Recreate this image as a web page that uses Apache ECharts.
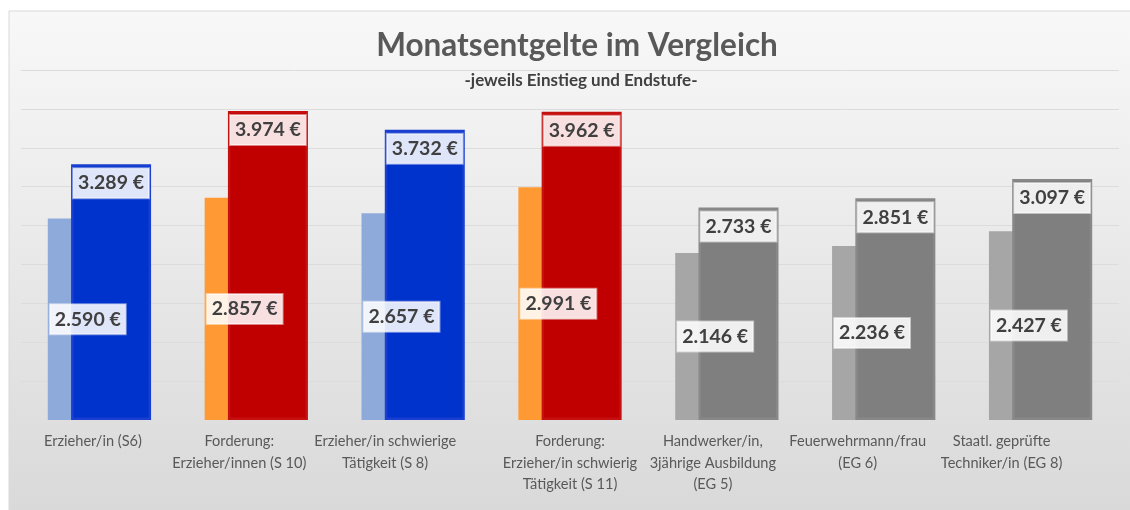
<!DOCTYPE html>
<html>
<head>
<meta charset="utf-8">
<script src="https://cdn.jsdelivr.net/npm/echarts@6/dist/echarts.min.js"></script>
<style>
  html, body { margin: 0; padding: 0; background: #ffffff; overflow: hidden; }
  #chart { width: 1130px; height: 510px; }
</style>
</head>
<body>
<div id="chart"></div>
<script>
// ---- data ----
const categories = [
  'Erzieher/in (S6)',
  'Forderung:\nErzieher/innen (S 10)',
  'Erzieher/in schwierige\nTätigkeit (S 8)',
  'Forderung:\nErzieher/in schwierig\nTätigkeit (S 11)',
  'Handwerker/in,\n3jährige Ausbildung\n(EG 5)',
  'Feuerwehrmann/frau\n(EG 6)',
  'Staatl. geprüfte\nTechniker/in (EG 8)'
];
const einstieg = [2590, 2857, 2657, 2991, 2146, 2236, 2427];
const endstufe = [3289, 3974, 3732, 3962, 2733, 2851, 3097];
const yTicks = { min: 0, max: 4500, interval: 500 };

// ---- styles (kept separate from data) ----
const lightColors = ['#8EAADB', '#FF9933', '#8EAADB', '#FF9933', '#A6A6A6', '#A6A6A6', '#A6A6A6'];
const darkColors  = ['#0033CC', '#C00000', '#0033CC', '#C00000', '#7F7F7F', '#7F7F7F', '#7F7F7F'];
const darkBorders = ['#1A3FD0', '#C41010', '#1A3FD0', '#C41010', '#888888', '#888888', '#888888'];
const labelShiftRightPad = [13, 34, 56, 0, 28, 52, 78];

const FONT = 'Lato, "Open Sans", sans-serif';

function euro(v) {
  return String(v).replace(/\B(?=(\d{3})+(?!\d))/g, '.') + ' €';
}

const valueLabel = {
  show: true,
  formatter: p => euro(p.value),
  fontFamily: FONT,
  fontWeight: 'bold',
  fontSize: 19.5,
  color: '#404040',
  backgroundColor: 'rgba(255,255,255,0.88)',
  borderColor: 'rgba(255,255,255,0.5)',
  borderWidth: 1,
  padding: [5, 5, 5, 5],
  lineHeight: 20
};

const chart = echarts.init(document.getElementById('chart'), null, { renderer: 'canvas' });

const option = {
  animation: false,
  backgroundColor: '#ffffff',
  graphic: [{
    type: 'rect',
    z: -100,
    shape: { x: 9, y: 11, width: 1140, height: 520 },
    style: {
      fill: new echarts.graphic.LinearGradient(0, 0, 0, 1, [
        { offset: 0, color: '#f8f8f8' },
        { offset: 1, color: '#d8d8d8' }
      ]),
      stroke: '#d9d9d9',
      lineWidth: 1
    }
  }],
  title: [{
    text: 'Monatsentgelte im Vergleich',
    left: 572, top: 25, textAlign: 'center',
    textStyle: { fontFamily: FONT, fontWeight: 'bold', fontSize: 31.5, color: '#595959' }
  }, {
    text: '-jeweils Einstieg und Endstufe-',
    left: 576, top: 67, textAlign: 'center',
    textStyle: { fontFamily: FONT, fontWeight: 'bold', fontSize: 17, color: '#404040' }
  }],
  grid: { left: 21, right: 11, top: 70, bottom: 90, containLabel: false, outerBoundsMode: 'none' },
  xAxis: {
    type: 'category',
    data: categories.map((c, i) => ({
      value: c,
      textStyle: { padding: [0, labelShiftRightPad[i], 0, 0] }
    })),
    axisLine: { show: false },
    axisTick: { show: false },
    axisLabel: {
      interval: 0,
      margin: 11,
      hideOverlap: false,
      fontFamily: FONT,
      fontSize: 14.6,
      lineHeight: 21.5,
      color: '#595959'
    }
  },
  yAxis: {
    type: 'value',
    min: yTicks.min, max: yTicks.max, interval: yTicks.interval,
    axisLabel: { show: false },
    axisLine: { show: false },
    axisTick: { show: false },
    splitLine: { show: true, showMinLine: false, lineStyle: { color: '#dcdcdc', width: 1 } }
  },
  series: [{
    name: 'Einstieg',
    type: 'bar',
    barWidth: 80,
    barGap: '-70.9%',
    data: einstieg.map((v, i) => ({ value: v, itemStyle: { color: lightColors[i] } })),
    label: Object.assign({}, valueLabel, { position: 'inside' }),
    z: 2
  }, {
    name: 'Endstufe',
    type: 'bar',
    barWidth: 80,
    data: endstufe.map((v, i) => ({
      value: v,
      itemStyle: { color: darkColors[i], borderColor: darkBorders[i], borderWidth: 2.5 }
    })),
    label: Object.assign({}, valueLabel, { position: 'insideTop', distance: 4 }),
    z: 2
  }]
};

chart.setOption(option);
</script>
</body>
</html>
